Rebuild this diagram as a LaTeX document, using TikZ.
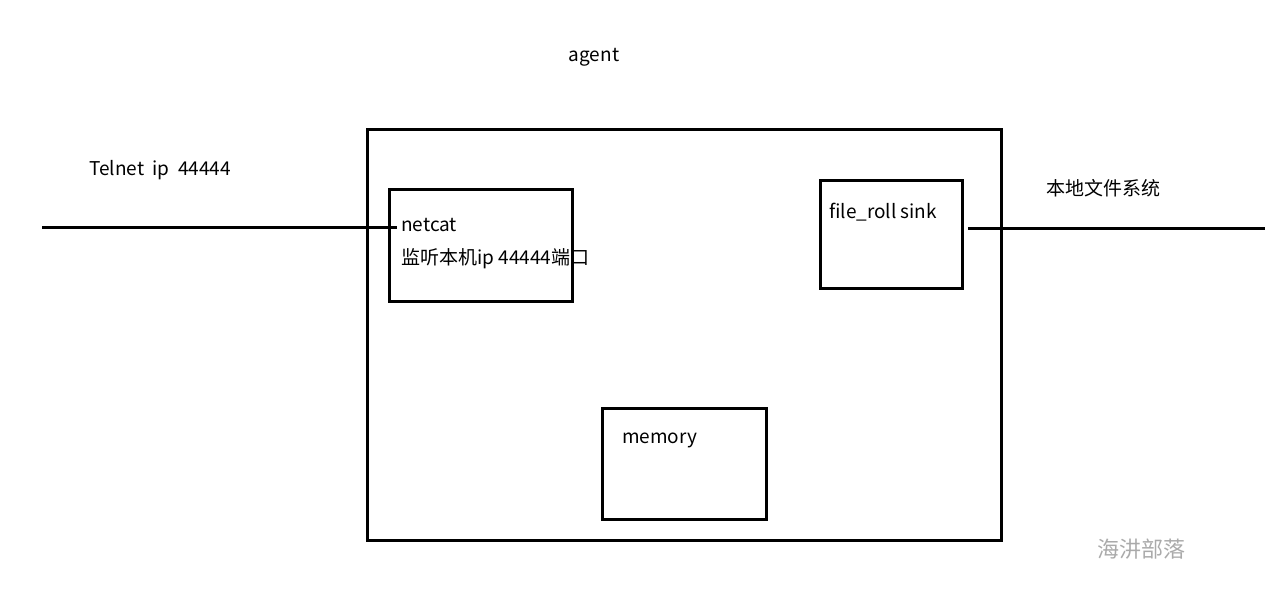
\documentclass[tikz,border=0pt]{standalone}
\usepackage{fontspec}
\setmainfont{Noto Sans CJK SC}
\usetikzlibrary{positioning}
\definecolor{wmgrey}{RGB}{170,170,170}
\tikzset{
  blk/.style={draw=black,line width=3pt,inner sep=0},
  wire/.style={draw=black,line width=3pt},
  lbl/.style={font=\fontsize{19}{22}\selectfont,anchor=base west,inner sep=0},
}

\begin{document}
\begin{tikzpicture}[x=1pt,y=-1pt]
  \useasboundingbox (0,0) rectangle (1288,597);

  % ---------------- agent and its parts ----------------
  \node[lbl,anchor=base] (agentlbl) at (594,61) {agent};
  \node[blk,minimum width=634pt,minimum height=411pt] (agent) at (684,334.5) {};

  \node[blk,minimum width=183pt,minimum height=112pt] (netcat) at (480.5,245) {};
  \node[lbl] (nclbl) at (401,231) {netcat};
  \node[lbl] (nctext) at (401,264) {监听本机ip 44444端口};

  \node[blk,minimum width=142pt,minimum height=108pt] (sink) at (891,234) {};
  \node[lbl] (sinklbl) at (829,218) {file\_roll sink};

  \node[blk,minimum width=164pt,minimum height=111pt] (memory) at (684,463.5) {};
  \node[lbl] (memlbl) at (622,443) {memory};

  % ---------------- outside ----------------
  \node[lbl] (telnetlbl) at (89,175) {Telnet\ \ ip\ \ 44444};
  \node[lbl] (fslbl) at (1046,195) {本地文件系统};
  \coordinate (telnet) at (42,227);
  \coordinate (fs) at (1265,228);

  \draw[wire] (telnet) -- ([xshift=-4pt]telnet -| nclbl.west);
  \draw[wire] ([xshift=4.5pt]sink.east |- fs) -- (fs);

  \node[lbl,anchor=base,font=\fontsize{22}{24}\selectfont,text=wmgrey] (mark) at (1141,557) {海汫部落};
\end{tikzpicture}
\end{document}
